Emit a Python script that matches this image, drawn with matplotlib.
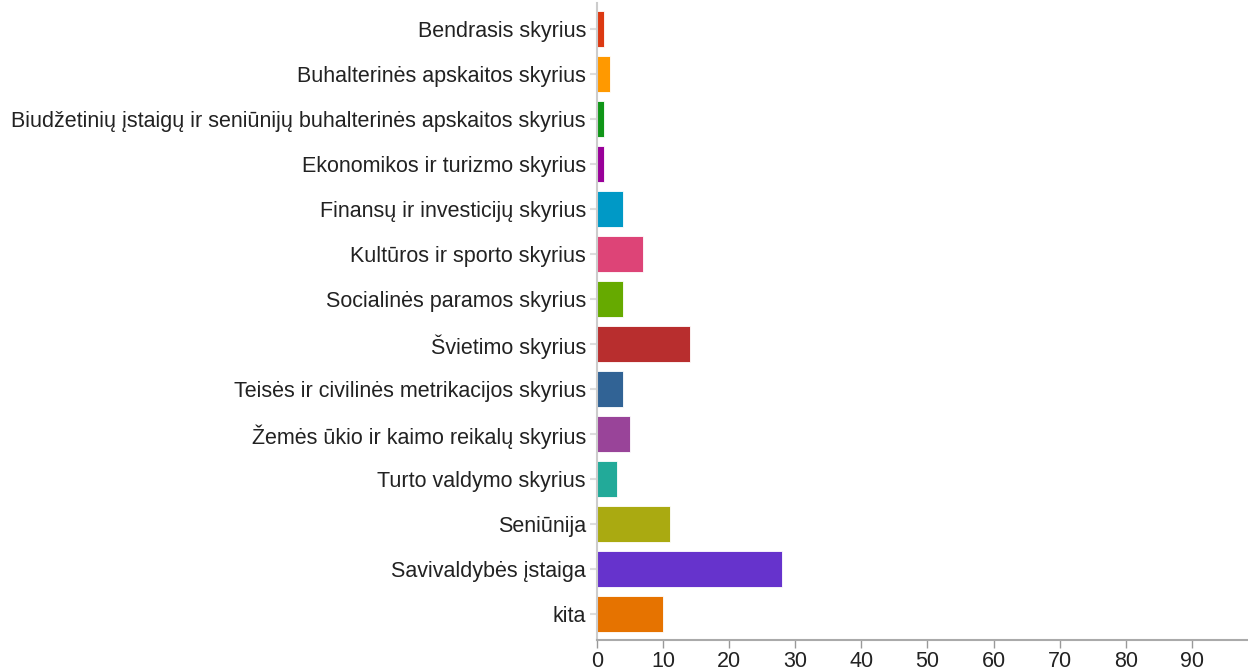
import matplotlib
matplotlib.use("Agg")
import matplotlib.pyplot as plt

categories = [
    "Bendrasis skyrius",
    "Buhalterinės apskaitos skyrius",
    "Biudžetinių įstaigų ir seniūnijų buhalterinės apskaitos skyrius",
    "Ekonomikos ir turizmo skyrius",
    "Finansų ir investicijų skyrius",
    "Kultūros ir sporto skyrius",
    "Socialinės paramos skyrius",
    "Švietimo skyrius",
    "Teisės ir civilinės metrikacijos skyrius",
    "Žemės ūkio ir kaimo reikalų skyrius",
    "Turto valdymo skyrius",
    "Seniūnija",
    "Savivaldybės įstaiga",
    "kita",
]
counts = [1, 2, 1, 1, 4, 7, 4, 14, 4, 5, 3, 11, 28, 10]
colors = ["#dc3912", "#ff9900", "#109618", "#990099", "#0099c6", "#dd4477",
          "#66aa00", "#b82e2e", "#316395", "#994499", "#22aa99", "#aaaa11",
          "#6633cc", "#e67300"]
xticks = [0, 10, 20, 30, 40, 50, 60, 70, 80, 90]

plt.rcParams['font.family'] = ['Liberation Sans', 'DejaVu Sans']

fig = plt.figure(figsize=(12.48, 6.71), dpi=100)
ax = fig.add_axes([0.4784, 0.046, 0.5216, 0.9495])

ypos = list(range(len(categories)))
ax.barh(ypos, counts, height=0.81, color=colors, edgecolor="white", linewidth=0.6)

ax.set_ylim(len(categories) - 1 + 0.58, -0.58)
ax.set_xlim(0, 98.5)
ax.set_yticks(ypos)
ax.set_yticklabels(categories, fontsize=15.5, color="#222222")
ax.set_xticks(xticks)
ax.set_xticklabels([str(t) for t in xticks], fontsize=15.5, color="#222222")

for side in ["top", "right"]:
    ax.spines[side].set_visible(False)
ax.spines["left"].set_color("#cccccc")
ax.spines["left"].set_linewidth(1.5)
ax.spines["bottom"].set_color("#aaaaaa")
ax.spines["bottom"].set_linewidth(1.5)
ax.tick_params(axis="y", length=5, width=1.5, color="#dddddd", pad=3)
ax.tick_params(axis="x", length=6, width=1, color="#999999", pad=2)

fig.savefig("out.png", dpi=100)
